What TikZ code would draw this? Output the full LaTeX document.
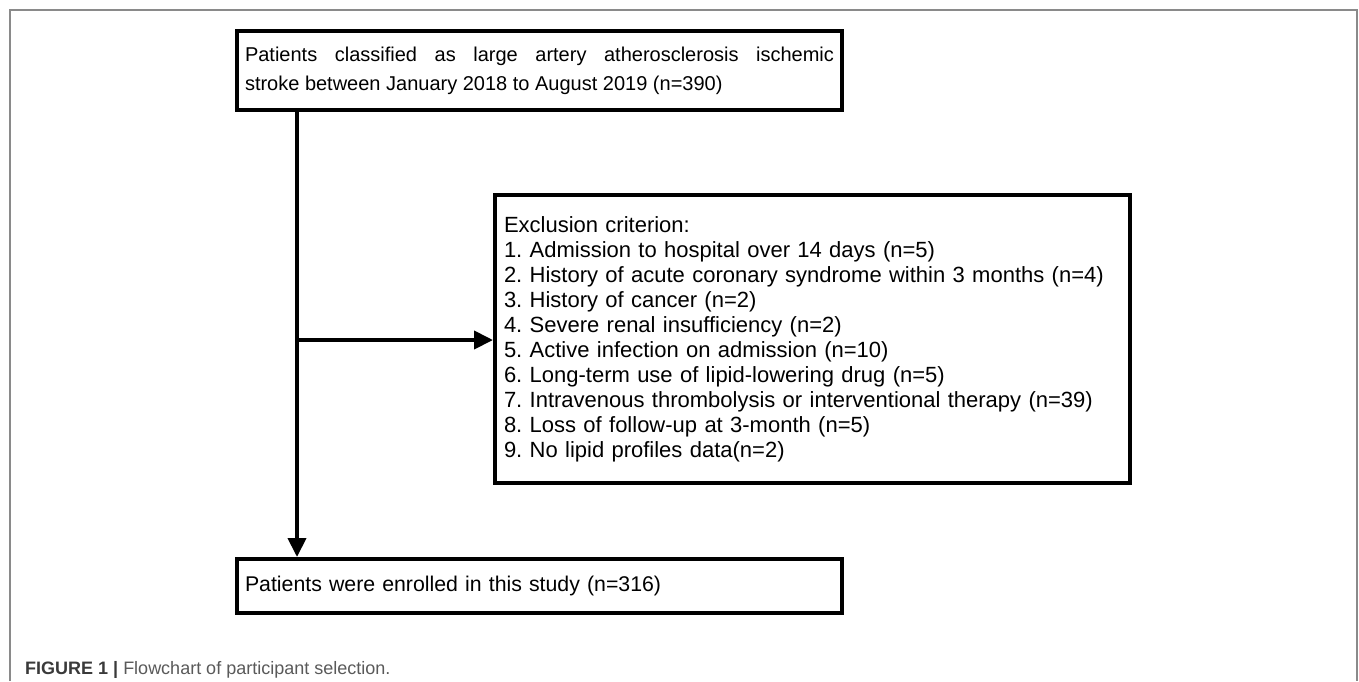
\documentclass[tikz,border=0pt]{standalone}
\usepackage{fontspec}
\setmainfont{Liberation Sans}
\usetikzlibrary{arrows.meta,calc}
\definecolor{framegray}{HTML}{8A8A8A}
\definecolor{capdark}{HTML}{3A3A3A}
\definecolor{caplight}{HTML}{5A5A5A}
\frenchspacing
\begin{document}
\begin{tikzpicture}[x=1pt,y=-1pt,
  boxstyle/.style={draw=black, line width=4pt, rectangle, inner ysep=0pt, anchor=center},
  conn/.style={line width=4pt, -{Triangle[length=19pt,width=18pt]}}
]
\useasboundingbox (0,0) rectangle (1359,681);
\fill[white] (0,0) rectangle (1359,681);
% outer frame
\draw[framegray, line width=2pt] (10,681) -- (10,10) -- (1357,10) -- (1357,681);

% boxes
\node[boxstyle, text width=589pt, inner xsep=8pt, minimum height=79pt,
      align=justify, font=\fontsize{20}{29}\selectfont] (top) at (539.5,70.5)
  {Patients classified as large artery atherosclerosis ischemic\linebreak stroke between January 2018 to August 2019 (n=390)\par\vspace*{6pt}};

\node[boxstyle, text width=617pt, inner xsep=9pt, minimum height=288pt,
      align=left, font=\fontsize{22}{25}\selectfont] (excl) at (812.5,339)
  {Exclusion criterion:\\
   1. Admission to hospital over 14 days (n=5)\\
   2. History of acute coronary syndrome within 3 months (n=4)\\
   3. History of cancer (n=2)\\
   4. Severe renal insufficiency (n=2)\\
   5. Active infection on admission (n=10)\\
   6. Long-term use of lipid-lowering drug (n=5)\\
   7. Intravenous thrombolysis or interventional therapy (n=39)\\
   8. Loss of follow-up at 3-month (n=5)\\
   9. No lipid profiles data(n=2)\par\vspace*{17pt}};

\node[boxstyle, text width=589pt, inner xsep=8pt, minimum height=54pt,
      align=left, font=\fontsize{21.3}{25}\selectfont] (bottom) at (539.5,586)
  {Patients were enrolled in this study (n=316)};

% connectors
\coordinate (branch) at (297,340);
\draw[conn] (top.south -| branch) -- (bottom.north -| branch);
\draw[conn] (branch) -- (excl.west |- branch);

% caption
\node[anchor=base west, inner sep=0pt, font=\fontsize{18}{20}\selectfont] (cap) at (25,674)
  {\textcolor{capdark}{\textbf{FIGURE 1 |}} \textcolor{caplight}{Flowchart of participant selection.}};
\end{tikzpicture}
\end{document}
